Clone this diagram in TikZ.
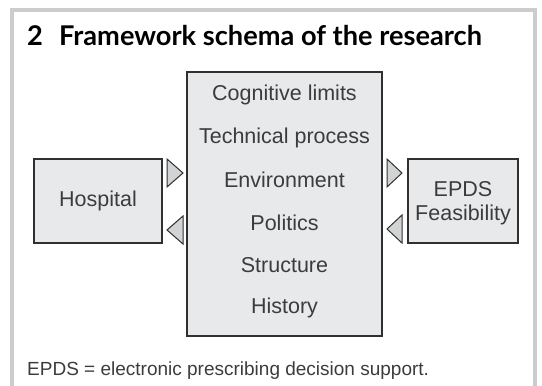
\documentclass[tikz,border=0pt]{standalone}
\usepackage{fontspec}
\setmainfont{Liberation Sans}
\newfontfamily\headfont{Lato}
\usepackage{tikz}

\definecolor{framegray}{RGB}{204,204,204}
\definecolor{boxfill}{RGB}{232,233,234}
\definecolor{tipfill}{RGB}{210,211,212}
\definecolor{inkgray}{RGB}{60,60,60}

\tikzset{
  panel/.style={draw=inkgray!80!black, fill=boxfill, line width=1.1pt, inner sep=0pt},
  tip/.style={draw=inkgray!80!black, fill=tipfill, line width=1pt, line join=miter},
  label/.style={text=inkgray, font=\fontsize{21.5}{24}\selectfont, align=center},
}

\begin{document}
\begin{tikzpicture}[x=1pt,y=-1pt]
\useasboundingbox (0,0) rectangle (542,386);

%Shape: Frame
\draw [color=framegray, line width=4pt] (12,390) -- (12,10) -- (535,10) -- (535,390);

% Text Node
\node [anchor=base west, inner sep=0pt, font=\headfont\bfseries\fontsize{27.2}{30}\selectfont] (title) at (27,45) {2\hspace{0.35em} Framework schema of the research};

%Shape: Rectangle
\node [panel, minimum width=195pt, minimum height=264pt] (factors) at (284.5,204) {};
%Shape: Rectangle
\node [panel, minimum width=128pt, minimum height=84pt] (hospital) at (98,201) {};
%Shape: Rectangle
\node [panel, minimum width=110pt, minimum height=84pt] (epds) at (463,201) {};

% Text Node
\node [label] (h) at (hospital.center) {Hospital};
% Text Node
\node [label, text depth=0pt] (e) at ([yshift=0.5pt]epds.center) {EPDS\\Feasibility};

% Text Node
\foreach \name [count=\i from 0] in {Cognitive limits, Technical process, Environment, Politics, Structure, History}
  \node [label] (row\i) at (284.5,95+42.6*\i) {\name};

%Shape: Triangle
\draw [tip] (167,159) -- (183,173) -- (167,187) -- cycle;
\draw [tip] (183,216) -- (167,230) -- (183,244) -- cycle;
\draw [tip] (387,159) -- (402,173) -- (387,187) -- cycle;
\draw [tip] (402,215) -- (387,229) -- (402,243) -- cycle;

% Text Node
\node [anchor=base west, inner sep=0pt, text=inkgray, font=\fontsize{19}{21}\selectfont] (note) at (27,375) {EPDS = electronic prescribing decision support.};

\end{tikzpicture}
\end{document}
